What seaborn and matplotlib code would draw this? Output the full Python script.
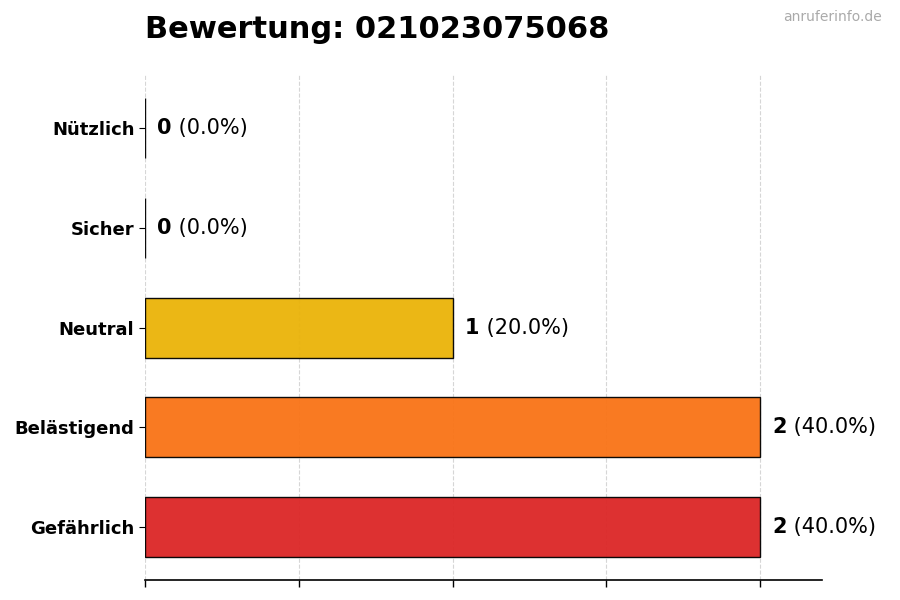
import matplotlib
matplotlib.use("Agg")
import matplotlib.pyplot as plt
import seaborn as sns
import pandas as pd

# data, top to bottom as drawn
categories = ["Nützlich", "Sicher", "Neutral", "Belästigend", "Gefährlich"]
counts = [0, 0, 1, 2, 2]
bar_colors = ["#22C55E", "#3B82F6", "#EAB308", "#F97316", "#DC2626"]
number = "021023075068"

total = sum(counts)
df = pd.DataFrame({"Kategorie": categories, "Anzahl": counts})

sns.set_style("white")
plt.rcParams["text.color"] = "black"
plt.rcParams["axes.labelcolor"] = "black"
plt.rcParams["xtick.color"] = "black"
plt.rcParams["ytick.color"] = "black"
plt.rcParams["axes.edgecolor"] = "black"

fig = plt.figure(figsize=(9, 6), dpi=100)
ax = fig.add_axes([0.161, 0.033, 0.752, 0.842])

sns.barplot(data=df, x="Anzahl", y="Kategorie", hue="Kategorie",
            palette=bar_colors, order=categories, hue_order=categories,
            width=0.6, edgecolor="black", linewidth=1, alpha=0.95,
            saturation=1, legend=False, ax=ax)

ax.set_xlim(0, max(counts) * 1.1)
ax.set_ylim(4.53, -0.53)
ax.set_xticks([0, 0.5, 1, 1.5, 2])
ax.set_xticklabels([])
ax.set_xlabel("")
ax.set_ylabel("")
ax.grid(axis="x", linestyle="--", color="#cccccc", linewidth=0.8, alpha=0.8)
ax.set_axisbelow(True)
sns.despine(ax=ax, left=True)
ax.spines["bottom"].set_linewidth(1.2)
ax.tick_params(axis="x", length=5, width=1, direction="out", bottom=True)
ax.tick_params(axis="y", length=4, width=0.8, left=True)
for lbl in ax.get_yticklabels():
    lbl.set_fontweight("bold")
    lbl.set_fontsize(13)

for i, c in enumerate(counts):
    pct = c / total * 100 if total else 0
    t = ax.annotate(f"{c}", xy=(c, i), xytext=(9, 0), textcoords="offset points",
                    va="center", ha="left", fontsize=15, fontweight="bold")
    ax.annotate(f" ({pct:.1f}%)", xy=(1, 0), xycoords=t, va="bottom", ha="left",
                fontsize=15)

fig.text(0.161, 0.95, f"Bewertung: {number}", fontsize=22, fontweight="bold",
         ha="left", va="center")
fig.text(0.98, 0.972, "anruferinfo.de", fontsize=10, color="#aaaaaa",
         ha="right", va="center")

fig.savefig("out.png", dpi=100)
